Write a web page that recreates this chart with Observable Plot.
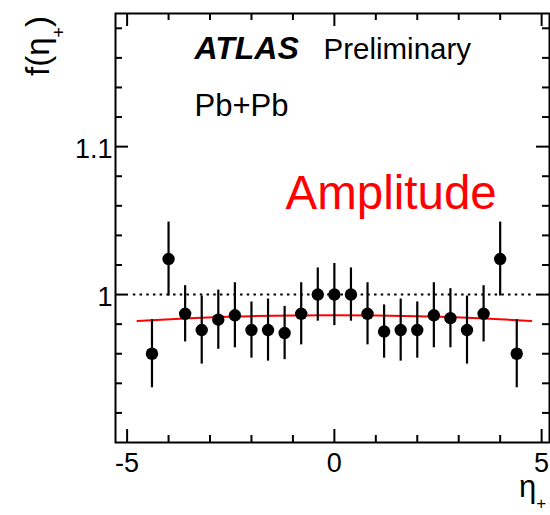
<!DOCTYPE html>
<html>
<head>
<meta charset="utf-8">
<script src="https://cdn.jsdelivr.net/npm/d3@7"></script>
<script src="https://cdn.jsdelivr.net/npm/@observablehq/plot@0.6"></script>
<style>
  html, body { margin: 0; padding: 0; background: #ffffff; }
  #chart { width: 550px; height: 515px; overflow: hidden; }
</style>
</head>
<body>
<div id="chart"></div>
<script>
// ---- data ----
const eta = [-4.4, -4.0, -3.6, -3.2, -2.8, -2.4, -2.0, -1.6, -1.2, -0.8, -0.4, 0.0,
             0.4, 0.8, 1.2, 1.6, 2.0, 2.4, 2.8, 3.2, 3.6, 4.0, 4.4];
const fVal = [0.960, 1.024, 0.987, 0.976, 0.983, 0.986, 0.976, 0.976, 0.974, 0.987, 1.000, 1.000,
              1.000, 0.987, 0.975, 0.976, 0.976, 0.986, 0.984, 0.976, 0.987, 1.024, 0.960];
const fErr = [0.023, 0.025, 0.019, 0.023, 0.020, 0.022, 0.019, 0.021, 0.018, 0.021, 0.018, 0.021,
              0.018, 0.021, 0.018, 0.021, 0.019, 0.022, 0.020, 0.023, 0.019, 0.025, 0.023];

// fit curve (red), read at a few positions
const fitEta = [-4.75, -3.5, -2.0, 0.0, 2.0, 3.5, 4.75];
const fitVal = [0.9822, 0.9840, 0.9854, 0.9860, 0.9854, 0.9840, 0.9822];

// reference line at unity
const refY = [1];
const refFrom = -4.85, refTo = 4.8;

// ticks
const xMajor = [-5, 0, 5];
const xMinor = [-4, -3, -2, -1, 1, 2, 3, 4];
const yMajor = [1.0, 1.1];
const yMinor = [0.92, 0.94, 0.96, 0.98, 1.02, 1.04, 1.06, 1.08, 1.12, 1.14, 1.16, 1.18];

const xDomain = [-5.28, 5.19];
const yDomain = [0.9, 1.19];

// ---- build ----
const W = 550, H = 515;
const mL = 115, mR = 1, mT = 13, mB = 73;
const innerW = W - mL - mR, innerH = H - mT - mB;
const FONT = "Liberation Sans, Arial, Helvetica, sans-serif";

const points = eta.map((e, i) => ({eta: e, f: fVal[i], err: fErr[i]}));
const fit = fitEta.map((e, i) => ({eta: e, f: fitVal[i]}));

const MAJ = 13, MIN = 7;

const svg = Plot.plot({
  width: W, height: H,
  marginLeft: mL, marginRight: mR, marginTop: mT, marginBottom: mB,
  style: {fontFamily: FONT, background: "#ffffff", color: "#000"},
  x: {domain: xDomain},
  y: {domain: yDomain},
  marks: [
    // dotted line at 1
    Plot.ruleY(refY, {y: d => d, x1: refFrom, x2: refTo, stroke: "black", strokeWidth: 2, strokeDasharray: "2.5,4.2"}),
    // fit
    Plot.line(fit, {x: "eta", y: "f", stroke: "#ff0000", strokeWidth: 2, curve: "natural"}),
    // error bars
    Plot.ruleX(points, {x: "eta", y1: d => d.f - d.err, y2: d => d.f + d.err, stroke: "black", strokeWidth: 2.2}),
    // points
    Plot.dot(points, {x: "eta", y: "f", r: 6.2, fill: "black", stroke: null}),
    // ticks bottom/top
    Plot.tickX(xMajor, {x: d => d, insetTop: innerH - MAJ, strokeWidth: 2}),
    Plot.tickX(xMajor, {x: d => d, insetBottom: innerH - MAJ, strokeWidth: 2}),
    Plot.tickX(xMinor, {x: d => d, insetTop: innerH - MIN, strokeWidth: 2}),
    Plot.tickX(xMinor, {x: d => d, insetBottom: innerH - MIN, strokeWidth: 2}),
    // ticks left/right
    Plot.tickY(yMajor, {y: d => d, insetRight: innerW - MAJ, strokeWidth: 2}),
    Plot.tickY(yMajor, {y: d => d, insetLeft: innerW - MAJ, strokeWidth: 2}),
    Plot.tickY(yMinor, {y: d => d, insetRight: innerW - MIN, strokeWidth: 2}),
    Plot.tickY(yMinor, {y: d => d, insetLeft: innerW - MIN, strokeWidth: 2}),
    // axis labels
    Plot.axisX(xMajor, {anchor: "bottom", tickSize: 0, tickPadding: 10, fontSize: 27, tickFormat: d => String(d), label: null}),
    Plot.axisY(yMajor, {anchor: "left", tickSize: 0, tickPadding: 3, fontSize: 27, dy: 3, tickFormat: d => String(d), label: null}),
    // frame
    Plot.frame({stroke: "black", strokeWidth: 2}),
    // annotations
    Plot.text(["ATLAS"], {frameAnchor: "top-left", dx: 79, dy: 45, lineAnchor: "bottom", textAnchor: "start",
      fontSize: 32, fontWeight: "bold", fontStyle: "italic", fill: "black"}),
    Plot.text(["Preliminary"], {frameAnchor: "top-left", dx: 208, dy: 45, lineAnchor: "bottom", textAnchor: "start",
      fontSize: 29.5, fill: "black"}),
    Plot.text(["Pb+Pb"], {frameAnchor: "top-left", dx: 79, dy: 102, lineAnchor: "bottom", textAnchor: "start",
      fontSize: 31, fill: "black"}),
    Plot.text(["Amplitude"], {frameAnchor: "top-left", dx: 170, dy: 195, lineAnchor: "bottom", textAnchor: "start",
      fontSize: 47.5, fill: "#ff0000"})
  ]
});

// axis titles with subscripts
const s = d3.select(svg);
const yt = s.append("text")
  .attr("transform", "translate(49,76) rotate(-90)")
  .attr("text-anchor", "start")
  .attr("font-family", FONT).attr("font-size", 33).attr("fill", "black");
yt.append("tspan").text("f(η");
yt.append("tspan").attr("font-size", 18).attr("dy", 16).text("+");
yt.append("tspan").attr("dy", -16).text(")");

const xt = s.append("text")
  .attr("transform", "translate(519,497)")
  .attr("text-anchor", "start")
  .attr("font-family", FONT).attr("font-size", 31).attr("fill", "black");
xt.append("tspan").text("η");
xt.append("tspan").attr("font-size", 17).attr("dy", 12).text("+");

document.getElementById("chart").appendChild(svg);
</script>
</body>
</html>
